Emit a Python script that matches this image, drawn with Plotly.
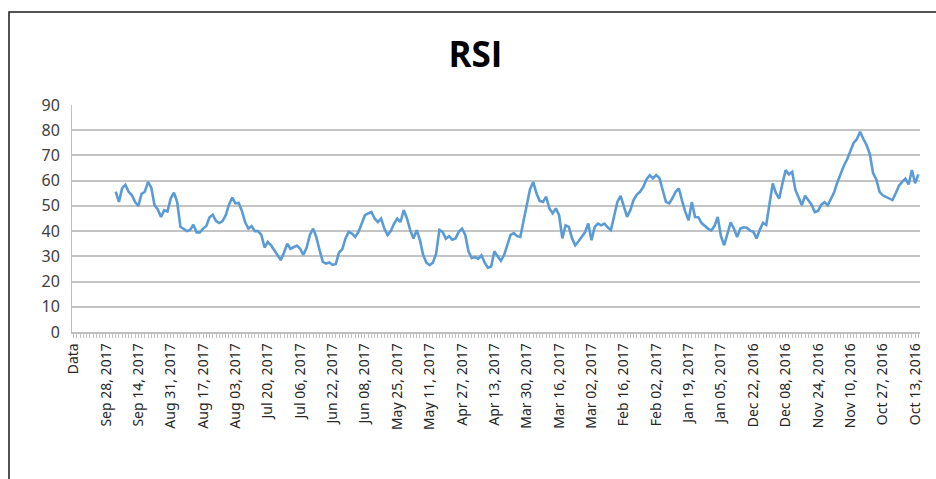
import pandas as pd
import plotly.graph_objects as go

# Category axis: header cell followed by weekday dates, newest first
trade_days = pd.bdate_range(end="2017-10-11", periods=261)[::-1]
categories = ["Data"] + [d.strftime("%b %d, %Y") for d in trade_days]

# RSI readings (blank for the first rows of the sheet)
rsi_blank = [None] * 13
rsi_values = [
    55.6, 51.6, 57.0, 58.4, 55.6, 54.2, 51.5, 50.0, 54.8, 55.6,
    59.5, 57.2, 50.3, 48.6, 45.6, 48.3, 47.8, 53.0, 55.2, 51.5,
    41.7, 41.0, 40.0, 40.5, 42.5, 39.5, 39.5, 41.0, 42.0, 45.5,
    46.5, 44.0, 43.2, 44.0, 46.3, 50.5, 53.3, 51.0, 51.2, 48.0,
    43.5, 41.0, 42.0, 40.0, 40.0, 38.5, 33.5, 35.7, 34.4, 32.4,
    30.4, 28.5, 31.5, 35.0, 33.0, 33.8, 34.3, 33.0, 30.6, 33.5,
    38.5, 41.0, 37.5, 32.4, 27.8, 27.1, 27.6, 26.6, 27.0, 31.5,
    32.8, 37.1, 39.7, 39.0, 37.7, 39.7, 43.0, 46.3, 47.0, 47.6,
    45.0, 43.6, 45.0, 41.0, 38.4, 40.0, 43.0, 45.0, 43.6, 48.3,
    45.0, 40.4, 37.1, 40.4, 36.4, 30.5, 27.5, 26.5, 27.5, 31.0,
    40.5, 39.7, 37.0, 38.0, 36.6, 37.1, 39.7, 41.0, 38.5, 32.0,
    29.3, 29.8, 29.0, 30.4, 27.5, 25.5, 26.0, 32.0, 30.0, 28.2,
    30.5, 35.0, 38.5, 39.2, 38.0, 37.7, 44.0, 51.5, 56.5, 59.5,
    55.0, 52.0, 51.6, 53.6, 49.0, 47.0, 49.0, 46.3, 37.1, 42.3,
    41.7, 37.1, 34.4, 36.0, 37.7, 39.5, 43.0, 36.4, 41.7, 43.0,
    42.3, 43.0, 41.5, 40.4, 46.0, 51.6, 54.0, 49.6, 45.6, 48.3,
    52.3, 54.5, 55.6, 57.5, 60.5, 62.2, 60.9, 62.2, 61.0, 56.3,
    51.6, 51.0, 53.0, 55.6, 56.9, 52.0, 47.6, 44.3, 51.5, 45.6,
    45.5, 43.2, 42.0, 41.0, 40.2, 42.0, 45.6, 38.0, 34.4, 39.5,
    43.5, 41.0, 37.7, 41.0, 41.5, 41.3, 40.2, 39.7, 37.1, 40.5,
    43.3, 42.5, 51.0, 58.9, 55.0, 52.9, 58.9, 64.2, 62.5, 63.5,
    56.3, 53.0, 50.3, 54.0, 52.0, 50.5, 47.5, 48.0, 50.5, 51.5,
    50.2, 52.8, 55.5, 59.5, 63.0, 66.0, 68.5, 72.0, 75.0, 76.5,
    79.4, 76.5, 74.1, 70.5, 63.0, 60.5, 55.6, 54.2, 53.6, 52.8,
    52.3, 55.0, 58.0, 59.5, 60.8, 58.5, 64.2, 59.0, 62.5,
]
rsi = rsi_blank + rsi_values

# Every tenth category carries a date label
label_step = 10
tick_text = [c if i % label_step == 0 else "" for i, c in enumerate(categories)]

W, H = 936, 479
L, R, T, B = 72, 16, 105, 147

fig = go.Figure()
fig.add_trace(go.Scatter(
    x=categories, y=rsi, mode="lines",
    line=dict(color="#5B9BD5", width=2.6),
    connectgaps=False, showlegend=False, hoverinfo="x+y",
))

def px_x(p):
    return (p - L) / (W - L - R)

def px_y(p):
    return 1 - (p - T) / (H - T - B)

fig.update_layout(
    width=W, height=H,
    margin=dict(l=L, r=R, t=T, b=B),
    paper_bgcolor="white", plot_bgcolor="white",
    title=dict(text="<b>RSI</b>", x=0.508, xanchor="center", y=1 - 55 / H, yanchor="middle",
               font=dict(family="Open Sans", size=35, color="#000000")),
    xaxis=dict(
        type="category", categoryorder="array", categoryarray=categories,
        range=[-0.5, len(categories) - 0.5],
        tickmode="array", tickvals=categories, ticktext=tick_text,
        tickangle=-90, ticks="outside", ticklen=4, tickcolor="#BFBFBF", tickwidth=1,
        tickfont=dict(family="Noto Sans", size=14, color="#262626"),
        showline=True, linecolor="#BFBFBF", linewidth=1.5,
        showgrid=False, zeroline=False,
    ),
    yaxis=dict(
        range=[0, 90], tickmode="array", tickvals=list(range(0, 91, 10)),
        tickfont=dict(family="Noto Sans", size=16, color="#404040"),
        showgrid=True, gridcolor="#C4C4C4", gridwidth=1.5,
        showline=True, linecolor="#BFBFBF", linewidth=1,
        zeroline=False, ticks="", ticklabelstandoff=8,
    ),
    shapes=[dict(
        type="rect", xref="paper", yref="paper",
        x0=px_x(9), x1=px_x(945), y0=px_y(490), y1=px_y(12),
        line=dict(color="#1a1a1a", width=1.5), fillcolor="rgba(0,0,0,0)", layer="below",
    )],
)

fig.write_html("out.html")
